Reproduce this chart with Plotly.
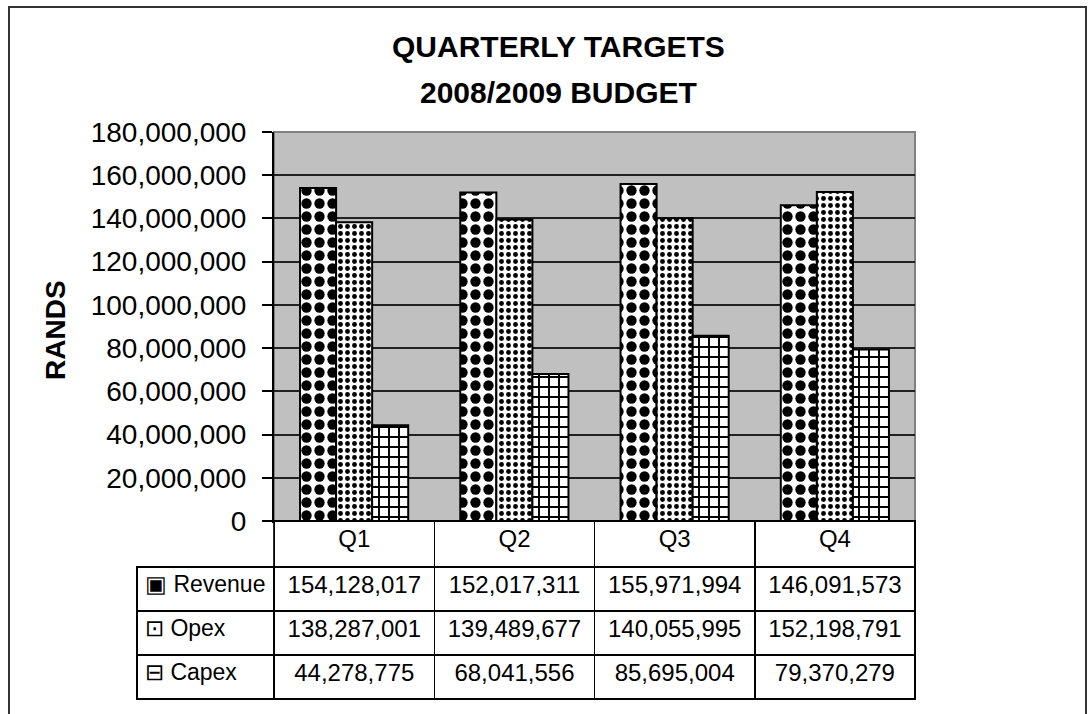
import plotly.graph_objects as go

quarters = ["Q1", "Q2", "Q3", "Q4"]
revenue = [154128017, 152017311, 155971994, 146091573]
opex = [138287001, 139489677, 140055995, 152198791]
capex = [44278775, 68041556, 85695004, 79370279]
series_names = ["Revenue", "Opex", "Capex"]
series_icons = ["\u25A3", "\u22A1", "\u229F"]
y_ticks = list(range(0, 180000001, 20000000))

W, H = 1088, 714
FONT = "Liberation Sans, Arial"


def px_x(v):
    return v / W


def px_y(v):
    return 1 - v / H


fig = go.Figure()

patterns = [
    dict(shape=".", size=13, solidity=0.5),
    dict(shape=".", size=7, solidity=0.38),
    dict(shape="+", size=10, solidity=0.35),
]
for name, vals, pat in zip(series_names, [revenue, opex, capex], patterns):
    fig.add_trace(go.Bar(
        x=quarters, y=vals, name=name,
        marker=dict(color="white", line=dict(color="black", width=2),
                    pattern=dict(fgcolor="black", bgcolor="white", fillmode="replace", **pat)),
        showlegend=False,
    ))

# data table under the plot
row_labels = [f"{ic}\u00a0{n}" for ic, n in zip(series_icons, series_names)]
cols = [row_labels]
for i in range(len(quarters)):
    cols.append([f"{s[i]:,}" for s in (revenue, opex, capex)])

fig.add_trace(go.Table(
    domain=dict(x=[px_x(137), px_x(915)], y=[px_y(700), px_y(521)]),
    columnwidth=[137, 160, 160, 160, 160],
    header=dict(values=[""] + quarters, height=46,
                fill_color=["rgba(0,0,0,0)", "white", "white", "white", "white"],
                line=dict(color=["rgba(0,0,0,0)", "black", "black", "black", "black"], width=1.5),
                font=dict(family=FONT, size=24, color="black"),
                align="center"),
    cells=dict(values=cols, height=44, fill_color="white",
               line=dict(color="black", width=1.5),
               font=dict(family=FONT, size=[23, 24, 24, 24, 24], color="black"),
               align=["left", "center", "center", "center", "center"]),
))

fig.update_layout(
    width=W, height=H,
    margin=dict(l=0, r=0, t=0, b=0),
    paper_bgcolor="white",
    plot_bgcolor="#c0c0c0",
    barmode="group",
    bargap=0.325,
    bargroupgap=0,
    font=dict(family=FONT, color="black"),
    xaxis=dict(domain=[px_x(274), px_x(915)], showticklabels=False, ticks="",
               showline=True, linecolor="black", linewidth=2, showgrid=False,
               automargin=False),
    yaxis=dict(domain=[px_y(521), px_y(132)], range=[0, 180000000],
               tickvals=y_ticks, tickformat=",d",
               ticks="outside", ticklen=10, tickcolor="black", tickwidth=1.5,
               ticklabelstandoff=10,
               tickfont=dict(size=28, family=FONT),
               showline=True, linecolor="black", linewidth=2,
               showgrid=True, gridcolor="#222222", gridwidth=1.5, zeroline=False,
               automargin=False),
    shapes=[
        dict(type="rect", xref="x domain", yref="y domain", x0=0, x1=1, y0=0, y1=1,
             line=dict(color="#808080", width=2), layer="below"),
        dict(type="rect", xref="paper", yref="paper", x0=px_x(9), x1=px_x(1086),
             y0=px_y(730), y1=px_y(7), line=dict(color="#333333", width=2)),
    ],
    annotations=[
        dict(text="<b>QUARTERLY TARGETS</b>",
             xref="paper", yref="paper", x=px_x(558), y=px_y(47),
             xanchor="center", yanchor="middle", showarrow=False,
             font=dict(size=30, family=FONT)),
        dict(text="<b>2008/2009 BUDGET</b>",
             xref="paper", yref="paper", x=px_x(558), y=px_y(93),
             xanchor="center", yanchor="middle", showarrow=False,
             font=dict(size=30, family=FONT)),
        dict(text="<b>RANDS</b>", textangle=-90,
             xref="paper", yref="paper", x=px_x(55), y=px_y(330),
             xanchor="center", yanchor="middle", showarrow=False,
             font=dict(size=28, family=FONT)),
    ],
)

# drop the default page margin so the figure fills the window exactly
fig.write_html("out.html", config={"displayModeBar": False},
               post_script="document.body.style.margin='0';")
